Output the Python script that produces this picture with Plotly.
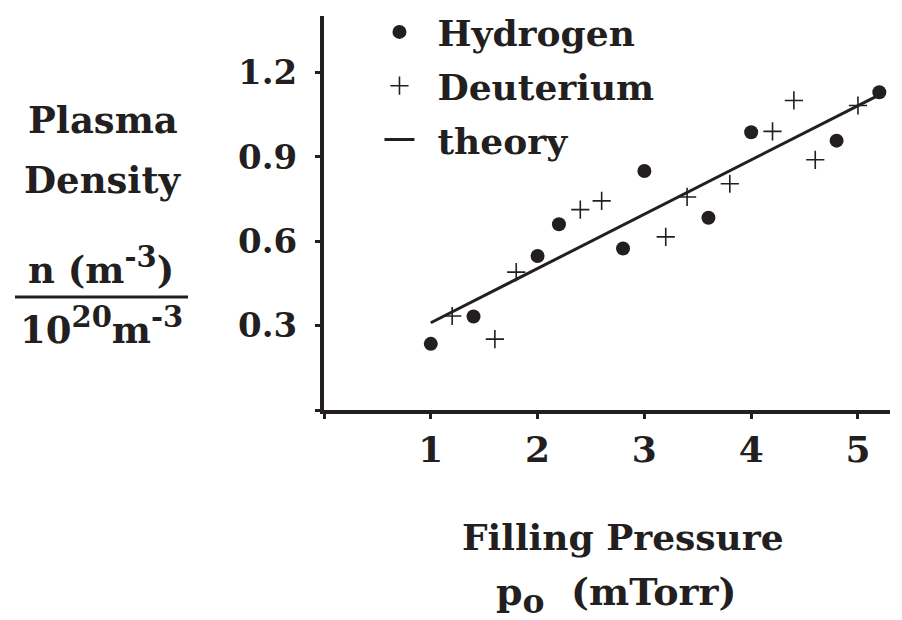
import plotly.graph_objects as go

# Data
h_x = [1.0, 1.4, 2.0, 2.2, 2.8, 3.0, 3.6, 4.0, 4.8, 5.2]
h_y = [0.235, 0.332, 0.547, 0.66, 0.574, 0.849, 0.683, 0.987, 0.957, 1.129]
d_x = [1.2, 1.6, 1.8, 2.4, 2.6, 3.2, 3.4, 3.8, 4.2, 4.4, 4.6, 5.0]
d_y = [0.334, 0.252, 0.49, 0.712, 0.743, 0.615, 0.757, 0.804, 0.99, 1.10, 0.889, 1.082]
t_x = [1.0, 5.2]
t_y = [0.31, 1.12]
x_ticks = [0, 1, 2, 3, 4, 5]
x_labels = ["", "1", "2", "3", "4", "5"]
y_ticks = [0, 0.3, 0.6, 0.9, 1.2]
y_labels = ["", "0.3", "0.6", "0.9", "1.2"]
series_names = ["Hydrogen", "Deuterium", "theory"]

INK = "#231f20"
FONT = "DejaVu Serif"
GAP = "\u2002"                       # spacing between legend key and text

OFF = 8                              # page body margin in the browser
W, H = 902 - OFF, 620 - OFF          # figure size
PL, PR, PT, PB = 324, 890, 16, 410   # plot area in window pixels

fig = go.Figure()
fig.add_trace(go.Scatter(x=h_x, y=h_y, mode="markers", name=GAP + series_names[0],
                         legendgroup="a",
                         marker=dict(symbol="circle", size=14, color=INK)))
fig.add_trace(go.Scatter(x=d_x, y=d_y, mode="markers", name=GAP + series_names[1],
                         legendgroup="b",
                         marker=dict(symbol="cross-thin", size=13,
                                     line=dict(color=INK, width=1.6))))
fig.add_trace(go.Scatter(x=t_x, y=t_y, mode="lines", name=GAP + series_names[2],
                         legendgroup="c",
                         line=dict(color=INK, width=3)))

axis_common = dict(showline=True, linecolor=INK, linewidth=4, ticks="outside",
                   ticklen=5, tickwidth=3, tickcolor=INK, showgrid=False,
                   zeroline=False, automargin=False)
fig.update_xaxes(range=[0, 5.3], tickvals=x_ticks, ticktext=x_labels,
                 tickfont=dict(family=FONT, size=36, color=INK, weight=700),
                 **axis_common)
fig.update_yaxes(range=[0, 1.4], tickvals=y_ticks, ticktext=y_labels,
                 ticklabelstandoff=11,
                 tickfont=dict(family=FONT, size=34, color=INK, weight=700),
                 **axis_common)

SUP = '<span style="font-size:{}px">{}</span>'
tf = dict(family=FONT, size=37, color=INK, weight=700)
ann = [
    dict(text="Plasma", x=103, y=120, size=37),
    dict(text="Density", x=103, y=180, size=37),
    dict(text="n (m<sup>" + SUP.format(29, "-3") + "</sup>)", x=101, y=266, size=37),
    dict(text="10<sup>" + SUP.format(29, "20") + "</sup>m<sup>" + SUP.format(29, "-3") + "</sup>",
         x=101, y=326, size=37),
    dict(text="Filling Pressure", x=623, y=537, size=36),
    dict(text="p<sub>" + SUP.format(33, "o") + "</sub>\u00a0 (mTorr)", x=616, y=595, size=38),
]
for a in ann:
    fig.add_annotation(text=a["text"], xref="paper", yref="paper",
                       x=(a["x"] - PL) / (PR - PL),
                       y=(PB - a["y"]) / (PB - PT),
                       showarrow=False,
                       font=dict(family=FONT, size=a["size"], color=INK, weight=700),
                       xanchor="center", yanchor="middle")
fig.add_shape(type="line", xref="paper", yref="paper",
              x0=(15 - PL) / (PR - PL), x1=(188 - PL) / (PR - PL),
              y0=(PB - 297) / (PB - PT), y1=(PB - 297) / (PB - PT),
              line=dict(color=INK, width=3))

fig.update_layout(
    width=W, height=H,
    margin=dict(l=PL - OFF, r=W - (PR - OFF), t=PT - OFF, b=H - (PB - OFF),
                autoexpand=False),
    paper_bgcolor="white", plot_bgcolor="white",
    showlegend=True,
    legend=dict(x=0.098, y=1.0355, xanchor="left", yanchor="top",
                font=dict(family=FONT, size=36, color=INK, weight=700),
                bgcolor="rgba(0,0,0,0)", itemwidth=30, tracegroupgap=4),
)

fig.write_html("out.html")
